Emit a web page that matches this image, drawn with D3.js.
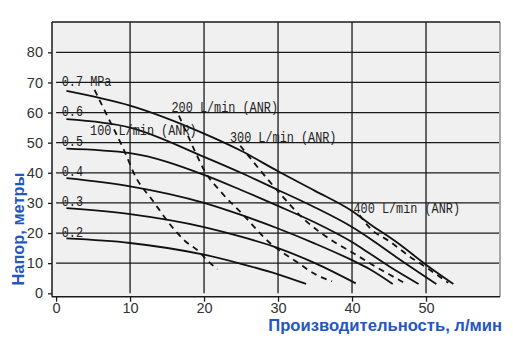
<!DOCTYPE html>
<html>
<head>
<meta charset="utf-8">
<script src="https://cdn.jsdelivr.net/npm/d3@7"></script>
<style>
  body { margin: 0; background: #fff; }
  svg { display: block; }
</style>
</head>
<body>
<svg id="chart" width="513" height="353"></svg>
<script>
// ---------- data ----------
const xTicks = [0, 10, 20, 30, 40, 50];
const yTicks = [0, 10, 20, 30, 40, 50, 60, 70, 80];
const pressureLabels = ["0.2", "0.3", "0.4", "0.5", "0.6", "0.7 MPa"];
const p02 = [[1.4,18.2],[10,16.7],[20,12.8],[25,9.8],[30,6.3],[33.8,3.1]];
const p03 = [[1.4,28.3],[10,26.3],[20,22],[25,18.8],[30,15],[35,10],[40.5,3.3]];
const p04 = [[1.4,38.2],[10,35.5],[20,30],[25,26],[30,21.5],[35,16.5],[40,11],[42.4,8],[45.5,3.1]];
const p05 = [[1.4,48],[10,46.5],[20,39.3],[25,34.3],[30,29],[35,23.5],[40,17],[42.4,13.2],[45,9],[49,3.1]];
const p06 = [[1.4,57.8],[10,55],[20,45.3],[25,40],[30,34.3],[35,28.5],[40,22],[42.4,18.2],[46,12],[51.4,3.1]];
const p07 = [[1.4,67.2],[10,62.3],[20,53],[25,47.3],[30,40.5],[35,34],[40,27.3],[42.4,23],[46,17],[50,9.5],[53.7,3.1]];
const pressureSeries = [p02, p03, p04, p05, p06, p07];
const pressureLabelY = [20, 30, 40, 50, 60, 70];

const flowLabels = ["100 L/min (ANR)", "200 L/min (ANR)", "300 L/min (ANR)", "400 L/min (ANR)"];
const f100 = [[5.2,67.5],[7,58.5],[9,48.5],[10.9,38],[13,31],[15.2,23.5],[17.5,17.2],[19.3,13.9],[20.4,11],[21.8,8]];
const f200 = [[16.6,59],[17.7,53],[18.8,47],[20.1,40.5],[22.2,33.9],[25.3,26],[28.9,16.7],[32.5,10.5],[35.2,6.1],[37.3,4]];
const f300 = [[24.9,49],[27.3,41.7],[30.3,33],[33.6,24.4],[37.5,17.2],[40.2,13.3],[42.4,10],[45,6.3],[47.2,3.3]];
const f400 = [[41,26],[42.4,21.7],[45.1,17.2],[47.8,12.2],[50.5,7.8],[53,3.5]];
const flowSeries = [f100, f200, f300, f400];
const flowLabelAt = [[4.6, 52.5], [15.6, 60.3], [23.5, 50.1], [40.2, 26.6]];

const xTitle = "Производительность, л/мин";
const yTitle = "Напор, метры";

// ---------- layout ----------
const svg = d3.select("#chart");
const plot = { left: 52, right: 500, top: 22, bottom: 296.7 };
const x = d3.scaleLinear().domain([-0.55, 60]).range([plot.left, plot.right]);
const y = d3.scaleLinear().domain([-1.13, 90.06]).range([plot.bottom, plot.top]);

// background
svg.append("rect")
  .attr("x", plot.left).attr("y", plot.top)
  .attr("width", plot.right - plot.left).attr("height", plot.bottom - plot.top)
  .attr("fill", "#f0f0f0");

// grid
const grid = svg.append("g").attr("stroke", "#1a1a1a").attr("stroke-width", 1.3);
yTicks.filter(d => d > 0).forEach(d => {
  grid.append("line").attr("x1", x(0)).attr("x2", plot.right)
    .attr("y1", y(d)).attr("y2", y(d));
});
xTicks.filter(d => d > 0).forEach(d => {
  grid.append("line").attr("x1", x(d)).attr("x2", x(d))
    .attr("y1", plot.top).attr("y2", y(0));
});

// frame
svg.append("line").attr("x1", plot.right).attr("x2", plot.right)
  .attr("y1", plot.top).attr("y2", plot.bottom)
  .attr("stroke", "#a8a8a8").attr("stroke-width", 2);
svg.append("line").attr("x1", plot.left).attr("x2", plot.right)
  .attr("y1", plot.top).attr("y2", plot.top)
  .attr("stroke", "#1a1a1a").attr("stroke-width", 1.5);
svg.append("line").attr("x1", plot.left).attr("x2", plot.left)
  .attr("y1", plot.top).attr("y2", plot.bottom)
  .attr("stroke", "#1a1a1a").attr("stroke-width", 1.5);
svg.append("line").attr("x1", plot.left).attr("x2", plot.right)
  .attr("y1", plot.bottom).attr("y2", plot.bottom)
  .attr("stroke", "#1a1a1a").attr("stroke-width", 1.5);

// axes
const tickFont = "'Liberation Sans Narrow', 'Arial Narrow', 'Liberation Sans', sans-serif";
const yAxis = svg.append("g").attr("transform", `translate(${plot.left},0)`)
  .call(d3.axisLeft(y).tickValues(yTicks).tickSize(4).tickPadding(5).tickFormat(d3.format("d")));
yAxis.select(".domain").remove();
yAxis.selectAll("line").attr("stroke", "#1a1a1a").attr("stroke-width", 1.3);
yAxis.selectAll("text").attr("font-family", tickFont).attr("font-size", 14.5).attr("fill", "#333");

const xAxis = svg.append("g").attr("transform", `translate(0,${plot.bottom})`)
  .call(d3.axisBottom(x).tickValues(xTicks).tickSize(5).tickPadding(1).tickFormat(d3.format("d")));
xAxis.select(".domain").remove();
xAxis.selectAll("line").attr("stroke", "#1a1a1a").attr("stroke-width", 1.3);
xAxis.selectAll("text").attr("font-family", tickFont).attr("font-size", 14.5).attr("fill", "#333");

// curves
const line = d3.line().x(d => x(d[0])).y(d => y(d[1])).curve(d3.curveMonotoneX);
svg.append("g").selectAll("path").data(pressureSeries).join("path")
  .attr("d", line).attr("fill", "none").attr("stroke", "#111").attr("stroke-width", 1.8);
svg.append("g").selectAll("path").data(flowSeries).join("path")
  .attr("d", line).attr("fill", "none").attr("stroke", "#111").attr("stroke-width", 1.8)
  .attr("stroke-dasharray", "6,5");

// labels
const monoFont = "'Liberation Mono', 'DejaVu Sans Mono', monospace";
const charW = 7.1;
svg.append("g").selectAll("text").data(pressureLabels).join("text")
  .attr("x", x(0.77))
  .attr("y", (d, i) => y(pressureLabelY[i]) + 3.5)
  .attr("font-family", monoFont).attr("font-size", 14).attr("fill", "#222")
  .attr("textLength", d => d.length * charW).attr("lengthAdjust", "spacingAndGlyphs")
  .text(d => d);
svg.append("g").selectAll("text").data(flowLabels).join("text")
  .attr("x", (d, i) => x(flowLabelAt[i][0]))
  .attr("y", (d, i) => y(flowLabelAt[i][1]))
  .attr("font-family", monoFont).attr("font-size", 14).attr("fill", "#222")
  .attr("textLength", d => d.length * charW).attr("lengthAdjust", "spacingAndGlyphs")
  .text(d => d);

// titles
svg.append("text")
  .attr("x", 502).attr("y", 331)
  .attr("text-anchor", "end")
  .attr("font-family", "'Liberation Sans', Arial, sans-serif")
  .attr("font-weight", "bold").attr("font-size", 16.6).attr("fill", "#2456c0")
  .text(xTitle);
svg.append("text")
  .attr("transform", "translate(24,229) rotate(-90)")
  .attr("text-anchor", "middle")
  .attr("font-family", "'Liberation Sans', Arial, sans-serif")
  .attr("font-weight", "bold").attr("font-size", 16.4).attr("fill", "#2456c0")
  .text(yTitle);
</script>
</body>
</html>
